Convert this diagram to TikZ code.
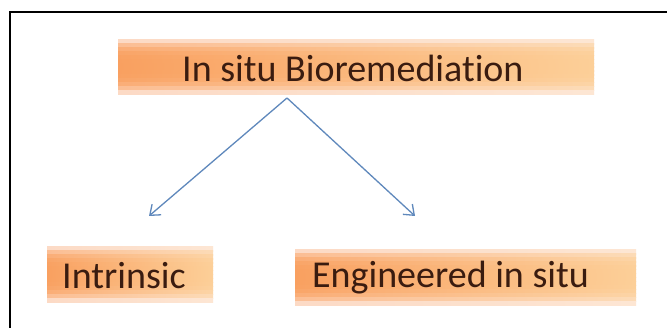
\documentclass[tikz,border=0pt]{standalone}
\usepackage{fontspec}
\setmainfont[Ligatures=NoCommon]{Carlito}
\usetikzlibrary{arrows.meta}
\definecolor{boxorange}{HTML}{F9A060}
\definecolor{boxpeach}{HTML}{FCCF98}
\definecolor{boxpale}{HTML}{FDEEE8}
\definecolor{txtbrown}{HTML}{3A1C10}
\definecolor{arrowblue}{HTML}{5F88BC}
\newcommand\orangeglow[4]{%
  \fill[boxpale] (#1,#2) rectangle (#3,#4);
  \foreach \k in {0,...,13}{
    \pgfmathsetmacro\ya{#2+(#4-#2)*\k/14}
    \pgfmathsetmacro\yb{#2+(#4-#2)*(\k+1)/14+0.3}
    \pgfmathsetmacro\tt{2*(\k+0.5)/14-1}
    \pgfmathsetmacro\w{100*(1-(\tt)^4)}
    \shade[left color=boxorange!\w!boxpale, right color=boxpeach!\w!boxpale] (#1,\ya) rectangle (#3,\yb);
  }
}
\tikzset{
  lbl/.style={text=txtbrown, font=\fontsize{38}{40}\selectfont, inner sep=0pt, anchor=west},
  arr/.style={draw=arrowblue, line width=1.3pt, -{Straight Barb[length=9pt,width=14pt,line width=1.3pt]}},
  frame/.style={line width=2.2pt, draw=black}
}
\begin{document}
\begin{tikzpicture}[x=1pt,y=-1pt]
\useasboundingbox (0,0) rectangle (667,328);
\fill[white] (0,0) rectangle (667,328);
% frame (top and left only)
\draw[frame] (10,328) -- (10,12) -- (667,12);
% boxes
\orangeglow{118}{40}{594}{94}
\orangeglow{47}{247}{213}{302}
\orangeglow{295}{250}{636}{305}
% texts
\node[lbl] (top) at (182,68) {In situ Bioremediation};
\node[lbl] (intr) at (62,276) {Intrinsic};
\node[lbl] (eng) at (312,278) {Engineered in situ};
% connectors
\coordinate (apex) at (287,98);
\coordinate (ltip) at (149,216);
\coordinate (rtip) at (415,216);
\draw[arr] (apex) -- (ltip);
\draw[arr] (apex) -- (rtip);
\end{tikzpicture}
\end{document}
